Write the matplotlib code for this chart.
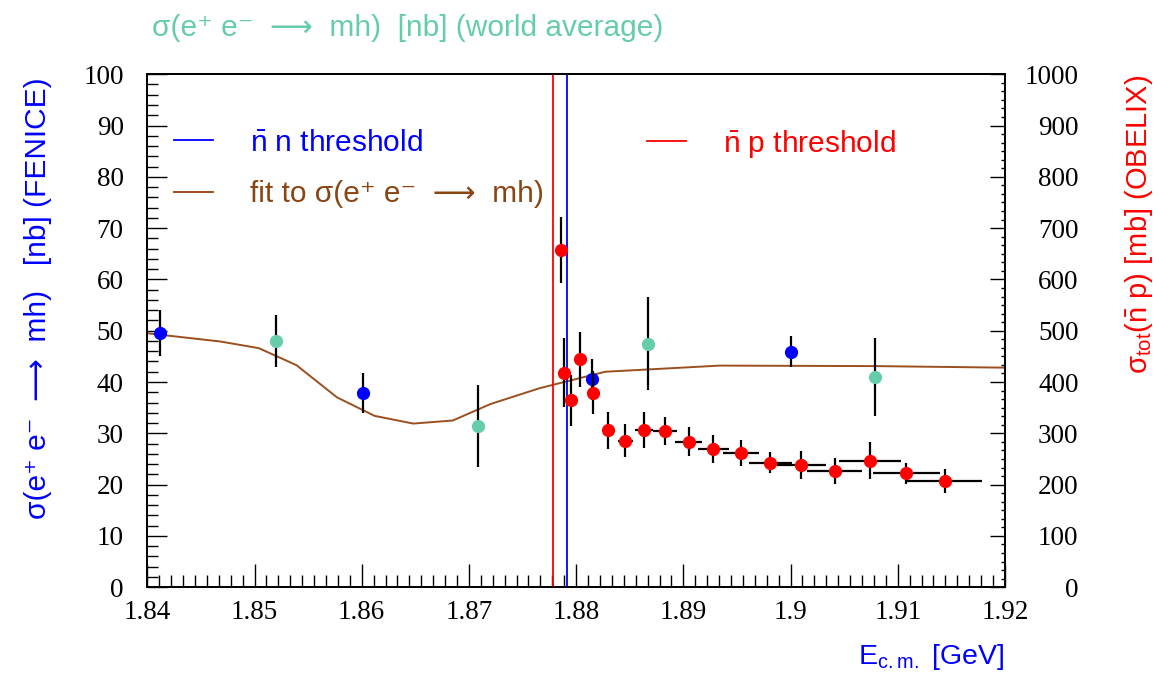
import matplotlib
matplotlib.use("Agg")
import matplotlib.pyplot as plt
from matplotlib.ticker import MultipleLocator
from matplotlib.lines import Line2D

# FENICE  sigma(e+e- -> mh) [nb]
fenice_e = [1.8412, 1.8601, 1.8815, 1.9000]
fenice_s = [49.5, 37.9, 40.5, 45.9]
fenice_err = [4.5, 3.9, 4.0, 3.0]

# world average sigma(e+e- -> mh) [nb]
world_e = [1.8520, 1.8708, 1.8867, 1.9079]
world_s = [48.0, 31.5, 47.5, 40.9]
world_err = [5.0, 8.0, 9.0, 7.6]

# OBELIX  sigma_tot(nbar p) [mb]
obelix_e = [1.8786, 1.8789, 1.8795, 1.8804, 1.8816, 1.8830, 1.8846, 1.8863,
            1.8883, 1.8905, 1.8928, 1.8954, 1.8981, 1.9010, 1.9041, 1.9074,
            1.9108, 1.9144]
obelix_s = [657, 418, 364, 444, 379, 306, 286, 306, 304, 284, 269, 262, 243,
            238, 226, 247, 222, 207]
obelix_yerr = [64, 67, 50, 54, 42, 36, 32, 35, 27, 29, 27, 25, 20, 27, 25,
               36, 20, 23]
obelix_xerr = [0.0, 0.0, 0.0, 0.0, 0.0, 0.0, 0.0007, 0.00085, 0.0011,
               0.00124, 0.00147, 0.00166, 0.0020, 0.00228, 0.00259, 0.00286,
               0.00315, 0.0035]

# fit to sigma(e+e- -> mh)
fit_e = [1.8400, 1.8468, 1.8504, 1.8539, 1.8577, 1.8612, 1.8648, 1.8685,
         1.8720, 1.8766, 1.8827, 1.8934, 1.9080, 1.9200]
fit_s = [49.5, 47.9, 46.6, 43.3, 37.0, 33.4, 31.9, 32.5, 35.7, 38.8, 42.0,
         43.2, 43.1, 42.8]

np_threshold = 1.87784
nn_threshold = 1.87913

blue = "#0000ff"
red = "#ff0000"
teal = "#66cdaa"
brown = "#8b4513"
sans = ["Liberation Sans", "DejaVu Sans"]
serif = "Liberation Serif"

plt.rcParams["mathtext.default"] = "regular"

# plain unicode (no mathtext) so missing glyphs fall back to DejaVu Sans
mh = "σ(e\u207a e\u207b  \u27f6  mh)"

fig = plt.figure(figsize=(11.59, 6.77), dpi=100)
ax = fig.add_axes([0.1271, 0.1326, 0.740, 0.7578])
ax2 = ax.twinx()

ax.set_xlim(1.84, 1.92)
ax.set_ylim(0, 100)
ax2.set_ylim(0, 1000)

ax.plot(fit_e, fit_s, color="#9c4f1e", lw=1.4, zorder=2)
ax.axvline(np_threshold, color=red, lw=1.3, zorder=3)
ax.axvline(nn_threshold, color=blue, lw=1.3, zorder=3)

ax.errorbar(world_e, world_s, yerr=world_err, fmt="o", color=teal, ms=8.5,
            ecolor="black", elinewidth=1.6, capsize=0, zorder=4)
ax.errorbar(fenice_e, fenice_s, yerr=fenice_err, fmt="o", color=blue, ms=8.5,
            ecolor="black", elinewidth=1.6, capsize=0, zorder=4)
ax2.errorbar(obelix_e, obelix_s, yerr=obelix_yerr, xerr=obelix_xerr, fmt="o",
             color=red, ms=8.5, ecolor="black", elinewidth=1.6, capsize=0,
             zorder=4)

# ticks
ax.xaxis.set_major_locator(MultipleLocator(0.01))
ax.xaxis.set_minor_locator(MultipleLocator(0.01 / 9))
ax.xaxis.set_major_formatter(lambda v, p: f"{v:g}")
ax.yaxis.set_major_locator(MultipleLocator(10))
ax.yaxis.set_minor_locator(MultipleLocator(2))
ax2.yaxis.set_major_locator(MultipleLocator(100))
ax2.yaxis.set_minor_locator(MultipleLocator(100 / 6))

ax.tick_params(axis="x", which="both", direction="in", top=False, pad=9,
               labelsize=19.5)
ax.tick_params(axis="x", which="major", length=16.5, width=1)
ax.tick_params(axis="x", which="minor", length=8.6, width=1)
ax.tick_params(axis="y", which="both", direction="in", right=False, pad=17,
               labelsize=19.5)
ax.tick_params(axis="y", which="major", length=14.5, width=1)
ax.tick_params(axis="y", which="minor", length=8, width=1)
ax2.tick_params(axis="y", which="both", direction="in", pad=53, labelsize=19.5)
ax2.tick_params(axis="y", which="major", length=11, width=1)
ax2.tick_params(axis="y", which="minor", length=3, width=1)

for lab in ax.get_xticklabels() + ax.get_yticklabels():
    lab.set_fontfamily(serif)
for lab in ax2.get_yticklabels():
    lab.set_fontfamily(serif)
    lab.set_horizontalalignment("right")

for a in (ax, ax2):
    for s in a.spines.values():
        s.set_linewidth(1.3)

# axis titles
fig.text(0.8665, 0.008, "E$_{c.m.}$ [GeV]", color=blue,
         fontsize=20.5, family=sans, ha="right", va="bottom")
fig.text(0.033, 0.885, mh + "   [nb] (FENICE)",
         color=blue, fontsize=21.5, family=sans, rotation=90, ha="center",
         va="top")
fig.text(0.983, 0.89, "σ$_{tot}$($\\bar{n}$ p) [mb] (OBELIX)",
         color=red, fontsize=21, family=sans, rotation=90, ha="center",
         va="top")
fig.text(0.131, 0.958, mh + "  [nb] (world average)",
         color=teal, fontsize=21.5, family=sans, ha="left", va="center")

# legends
h_nn = Line2D([], [], color=blue, lw=1.3)
h_fit = Line2D([], [], color="#9c4f1e", lw=1.4)
h_np = Line2D([], [], color=red, lw=1.3)
leg1 = ax2.legend([h_nn, h_fit],
                  ["$\\bar{n}$ n threshold", "fit to " + mh],
                  loc="upper left", bbox_to_anchor=(0.017, 0.917), frameon=False,
                  handlelength=1.3, handletextpad=1.25, labelspacing=0.79,
                  borderaxespad=0, prop={"family": sans, "size": 21.5})
leg1.get_texts()[0].set_color(blue)
leg1.get_texts()[1].set_color(brown)
ax2.add_artist(leg1)
leg2 = ax2.legend([h_np], ["$\\bar{n}$ p threshold"], loc="upper left",
                  bbox_to_anchor=(0.5687, 0.919), frameon=False,
                  handlelength=1.3, handletextpad=1.25, borderaxespad=0,
                  prop={"family": sans, "size": 21.5})
leg2.get_texts()[0].set_color(red)

fig.savefig("out.png", dpi=100)
